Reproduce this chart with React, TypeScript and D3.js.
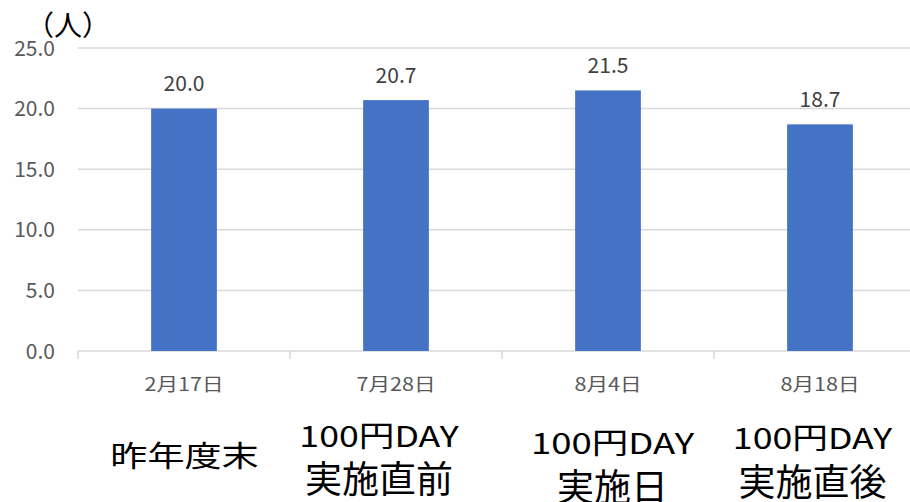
import React from "react";
import * as d3 from "d3";

const categories = ["2月17日", "7月28日", "8月4日", "8月18日"];
const values = [20.0, 20.7, 21.5, 18.7];
const yTicks = [0, 5, 10, 15, 20, 25];
const bottomLine1 = ["", "100円DAY", "100円DAY", "100円DAY"];
const bottomLine2 = ["昨年度末", "実施直前", "実施日", "実施直後"];
const unitLabel = "（人）";

const W = 910;
const H = 502;

function SText(props: { x: number; y: number; sx: number; size: number; fill: string; children: React.ReactNode }) {
  return (
    <text
      transform={`translate(${props.x},${props.y}) scale(${props.sx},1)`}
      textAnchor="middle"
      fontSize={props.size}
      fill={props.fill}
    >
      {props.children}
    </text>
  );
}

export default function App() {
  const x = d3.scaleBand<string>().domain(categories).range([78, 926]).paddingInner(0.69).paddingOuter(0.345);
  const y = d3.scaleLinear().domain([0, 25]).range([351, 48]);
  const band = d3.scaleBand<string>().domain(categories).range([78, 926]);
  const font = "'Noto Sans CJK JP', 'Noto Sans', sans-serif";
  const bottomX = [184.5, 379, 612.5, 812.5];
  const line1Y = [0, 447, 454, 449];
  const line2Y = [467, 493, 501, 496];
  const line1Sx = [1, 1.23, 1.26, 1.23];
  return (
    <svg width={W} height={H} style={{ position: "absolute", left: 0, top: 0, background: "#fff" }} fontFamily={font}>
      {yTicks.map((t) => (
        <g key={t}>
          <line x1={78} x2={W} y1={y(t)} y2={y(t)} stroke="#d9d9d9" strokeWidth={1.5} />
          <text x={55} y={y(t)} dy="0.36em" textAnchor="end" fontSize={21} fill="#595959">
            {t.toFixed(1)}
          </text>
        </g>
      ))}
      {categories.map((c, i) => (
        <line key={"t" + i} x1={band(c)!} x2={band(c)!} y1={351} y2={359} stroke="#d9d9d9" strokeWidth={1.5} />
      ))}
      {categories.map((c, i) => (
        <g key={c}>
          <rect x={x(c)!} y={y(values[i])} width={x.bandwidth()} height={351 - y(values[i])} fill="#4472c4" />
          <text x={x(c)! + x.bandwidth() / 2} y={y(values[i]) - 17.5} textAnchor="middle" fontSize={21} fill="#404040">
            {values[i].toFixed(1)}
          </text>
          <SText x={band(c)! + band.bandwidth() / 2} y={391} sx={1.2} size={18} fill="#595959">
            {c}
          </SText>
        </g>
      ))}
      <text x={26} y={36} fontSize={28} fill="#000" textAnchor="start">{unitLabel}</text>
      {categories.map((c, i) => (
        <g key={"b" + i}>
          {bottomLine1[i] ? (
            <>
              <SText x={bottomX[i]} y={line1Y[i]} sx={line1Sx[i]} size={29} fill="#000">{bottomLine1[i]}</SText>
              <SText x={bottomX[i]} y={line2Y[i]} sx={1} size={37} fill="#000">{bottomLine2[i]}</SText>
            </>
          ) : (
            <SText x={bottomX[i]} y={line2Y[i]} sx={1.28} size={29} fill="#000">{bottomLine2[i]}</SText>
          )}
        </g>
      ))}
    </svg>
  );
}
